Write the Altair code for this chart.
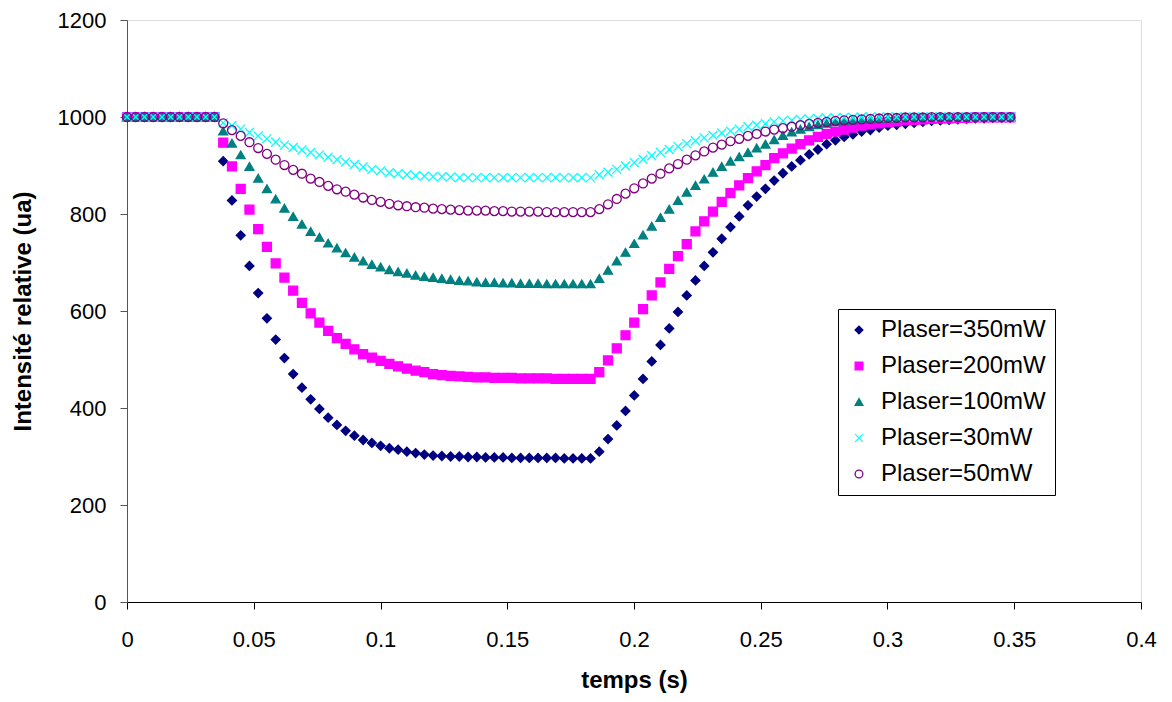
import altair as alt
import pandas as pd

# time axis (s)
temps = [0, 0.00345, 0.0069, 0.01035, 0.0138, 0.01725, 0.0207, 0.02415, 0.0276, 0.03105,
         0.0345, 0.03795, 0.0414, 0.04485, 0.0483, 0.05175, 0.0552, 0.05865, 0.0621, 0.06555,
         0.069, 0.07245, 0.0759, 0.07935, 0.0828, 0.08625, 0.0897, 0.09315, 0.0966, 0.10005,
         0.1035, 0.10695, 0.1104, 0.11385, 0.1173, 0.12075, 0.1242, 0.12765, 0.1311, 0.13455,
         0.138, 0.14145, 0.1449, 0.14835, 0.1518, 0.15525, 0.1587, 0.16215, 0.1656, 0.16905,
         0.1725, 0.17595, 0.1794, 0.18285, 0.1863, 0.18975, 0.1932, 0.19665, 0.2001, 0.20355,
         0.207, 0.21045, 0.2139, 0.21735, 0.2208, 0.22425, 0.2277, 0.23115, 0.2346, 0.23805,
         0.2415, 0.24495, 0.2484, 0.25185, 0.2553, 0.25875, 0.2622, 0.26565, 0.2691, 0.27255,
         0.276, 0.27945, 0.2829, 0.28635, 0.2898, 0.29325, 0.2967, 0.30015, 0.3036, 0.30705,
         0.3105, 0.31395, 0.3174, 0.32085, 0.3243, 0.32775, 0.3312, 0.33465, 0.3381, 0.34155,
         0.345, 0.34845]

p350 = [1000, 1000, 1000, 1000, 1000, 1000, 1000, 1000, 1000, 1000, 1000,
        909, 828, 756, 693, 637, 585, 541, 503, 470, 442, 418, 398, 380, 365, 353, 343, 334, 328, 322, 317, 314,
        310, 307, 304, 302, 301, 300, 300, 299, 299, 298, 298, 298, 297, 297, 297, 297, 297, 297, 296, 296, 296, 296,
        310, 336, 364, 394, 426, 460, 496, 530, 564, 598, 632, 663, 693, 721, 749, 773, 795, 818, 836, 852, 869,
        884, 898, 911, 923, 933, 944, 952, 959, 964, 970, 973, 978, 982, 984, 986, 988, 990, 992, 993, 994,
        995, 996, 997, 997, 998, 998, 998]

p200 = [1000, 1000, 1000, 1000, 1000, 1000, 1000, 1000, 1000, 1000, 1000,
        947, 898, 852, 809, 769, 732, 698, 669, 642, 617, 595, 576, 559, 544, 532, 521, 511, 504, 497, 491, 486,
        481, 477, 474, 470, 468, 466, 465, 464, 463, 463, 462, 462, 462, 461, 461, 461, 461, 460, 460, 460, 460, 460,
        474, 498, 523, 550, 576, 604, 632, 659, 687, 713, 738, 764, 785, 805, 825, 843, 859, 874, 888, 901, 915,
        925, 935, 944, 952, 959, 965, 970, 974, 978, 982, 985, 987, 989, 991, 993, 994, 995, 996, 997, 997,
        998, 998, 999, 999, 999, 999, 999]

p100 = [1000, 1000, 1000, 1000, 1000, 1000, 1000, 1000, 1000, 1000, 1000,
        971, 946, 922, 898, 874, 852, 831, 812, 795, 779, 764, 752, 740, 730, 720, 711, 703, 696, 691, 685, 681,
        678, 674, 671, 669, 667, 665, 663, 662, 660, 659, 659, 658, 658, 657, 657, 657, 656, 656, 656, 656, 656, 656,
        667, 684, 703, 721, 739, 757, 775, 793, 810, 828, 845, 859, 872, 886, 898, 909, 918, 927, 936, 944, 953,
        962, 969, 975, 980, 984, 987, 990, 992, 994, 995, 996, 997, 998, 998, 999, 999, 999, 999, 1000, 1000,
        1000, 1000, 1000, 1000, 1000, 1000, 1000]

p30 = [1000, 1000, 1000, 1000, 1000, 1000, 1000, 1000, 1000, 1000, 1000,
       988, 982, 975, 968, 961, 955, 948, 942, 937, 932, 927, 922, 917, 912, 907, 902, 897, 892, 889, 885, 883,
       881, 879, 878, 877, 877, 876, 875, 875, 875, 875, 875, 875, 875, 875, 875, 875, 875, 875, 875, 875, 875, 875,
       881, 886, 892, 899, 906, 913, 920, 927, 933, 939, 945, 951, 957, 962, 967, 971, 975, 980, 983, 986, 990,
       992, 993, 995, 996, 997, 998, 998, 999, 999, 1000, 1000, 1000, 1000, 1000, 1000, 1000, 1000, 1000, 1000, 1000,
       1000, 1000, 1000, 1000, 1000, 1000, 1000]

p50 = [1000, 1000, 1000, 1000, 1000, 1000, 1000, 1000, 1000, 1000, 1000,
       987, 973, 961, 948, 936, 924, 912, 901, 891, 883, 873, 866, 858, 851, 846, 840, 834, 829, 825, 821, 818,
       816, 814, 813, 811, 810, 809, 808, 807, 807, 807, 806, 806, 805, 805, 805, 805, 804, 804, 804, 804, 804, 804,
       810, 820, 831, 842, 853, 863, 873, 883, 894, 903, 912, 921, 929, 937, 943, 950, 955, 961, 965, 970, 974,
       977, 980, 983, 986, 988, 990, 992, 993, 994, 995, 996, 997, 998, 998, 999, 999, 999, 1000, 1000, 1000,
       1000, 1000, 1000, 1000, 1000, 1000, 1000]

series_names = ["Plaser=350mW", "Plaser=200mW", "Plaser=100mW", "Plaser=30mW", "Plaser=50mW"]
series_values = [p350, p200, p100, p30, p50]
shapes = ["diamond", "square", "triangle-up", "M-1,-1L1,1M-1,1L1,-1", "circle"]
fills = ["#000080", "#FF00FF", "#008080", "transparent", "transparent"]
strokes = ["#000080", "#FF00FF", "#008080", "#00FFFF", "#800080"]
x_ticks = [0, 0.05, 0.1, 0.15, 0.2, 0.25, 0.3, 0.35, 0.4]
y_ticks = [0, 200, 400, 600, 800, 1000, 1200]

rows = []
for name, vals in zip(series_names, series_values):
    assert len(vals) == len(temps), (name, len(vals))
    for t, v in zip(temps, vals):
        rows.append({"temps": t, "intensite": v, "serie": name})
df = pd.DataFrame(rows)

FONT = "Liberation Sans"

leg = alt.Legend(title=None, orient="none", legendX=711, legendY=289,
                 labelFontSize=24, labelFont=FONT, labelColor="black", labelLimit=400,
                 symbolSize=60, symbolStrokeWidth=1.3, rowPadding=12,
                 padding=9, strokeColor="black", fillColor="white",
                 labelOffset=10, symbolOffset=0)

chart = alt.Chart(df).mark_point(size=80, strokeWidth=1.3, opacity=1).encode(
    x=alt.X("temps:Q",
            scale=alt.Scale(domain=[0, 0.4], nice=False, zero=False),
            axis=alt.Axis(title="temps (s)", values=x_ticks, format="~g", grid=False,
                          labelFontSize=22, labelFont=FONT, labelColor="black",
                          titleFontSize=24, titleFont=FONT, titleFontWeight="bold",
                          titleColor="black", tickSize=7, tickColor="black",
                          domainColor="black", labelPadding=20, titlePadding=18,
                          labelFlush=False)),
    y=alt.Y("intensite:Q",
            scale=alt.Scale(domain=[0, 1200], nice=False),
            axis=alt.Axis(title="Intensité relative (ua)", values=y_ticks, format="d", grid=False,
                          labelFontSize=22, labelFont=FONT, labelColor="black",
                          titleFontSize=24, titleFont=FONT, titleFontWeight="bold",
                          titleColor="black", tickSize=7, tickColor="#555555",
                          domainColor="#555555", labelPadding=14, titlePadding=22)),
    shape=alt.Shape("serie:N", scale=alt.Scale(domain=series_names, range=shapes), legend=leg),
    fill=alt.Fill("serie:N", scale=alt.Scale(domain=series_names, range=fills), legend=leg),
    stroke=alt.Stroke("serie:N", scale=alt.Scale(domain=series_names, range=strokes), legend=leg),
).properties(
    width=1014, height=582,
    autosize=alt.AutoSizeParams(type="none"),
    padding={"left": 119, "top": 12, "right": 20, "bottom": 92},
).configure_view(stroke=None).configure(background="white")

chart.save("out.html", embed_options={"renderer": "svg", "actions": False})
